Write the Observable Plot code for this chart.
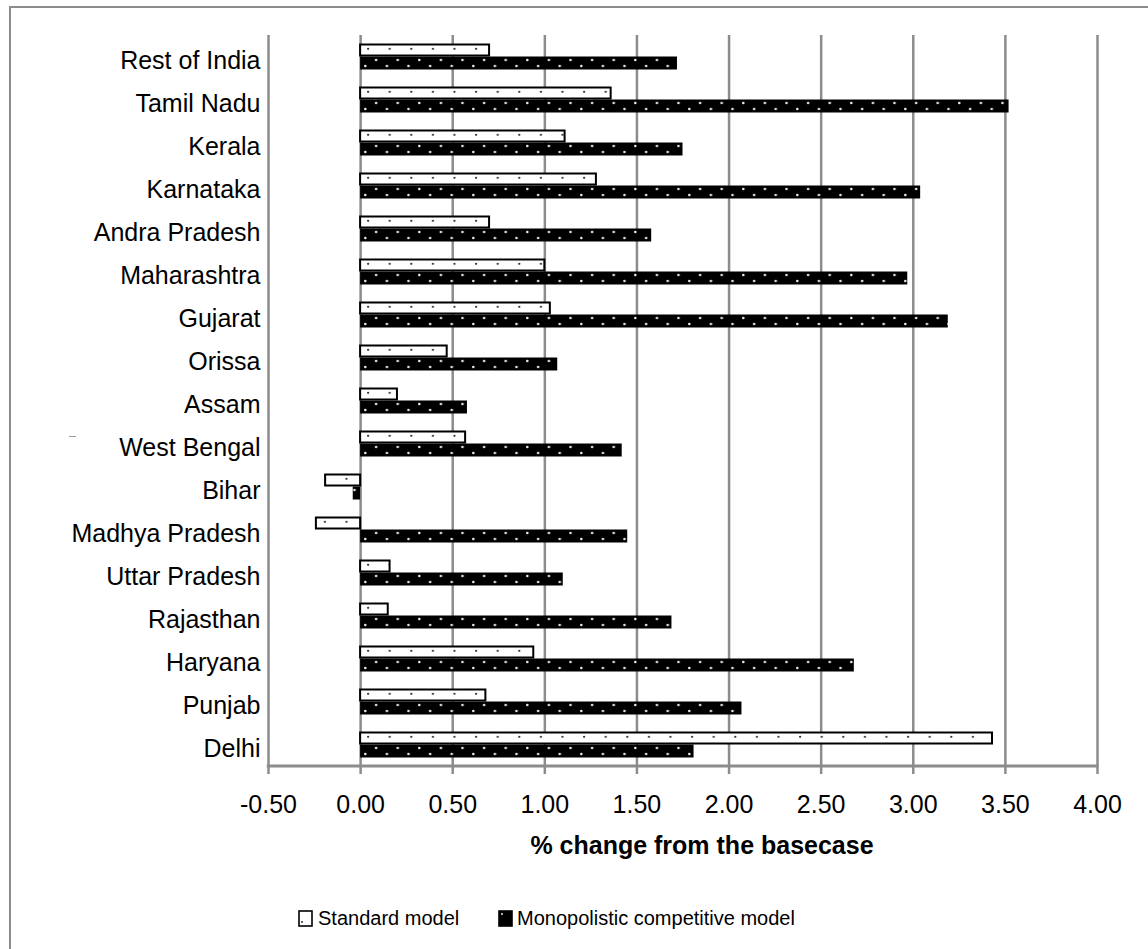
<!DOCTYPE html>
<html>
<head>
<meta charset="utf-8">
<script src="https://cdn.jsdelivr.net/npm/d3@7"></script>
<script src="https://cdn.jsdelivr.net/npm/@observablehq/plot@0.6"></script>
<style>
  html, body { margin: 0; padding: 0; background: #fff; overflow: hidden; }
  #wrap { position: relative; width: 1148px; height: 949px; font-family: "Liberation Sans", Arial, sans-serif; color: #000; }
  #frame { position: absolute; left: 9px; top: 6px; width: 1300px; height: 1100px; border-left: 2.5px solid #8c8c8c; border-top: 2.5px solid #8c8c8c; box-sizing: border-box; }
  #chart { position: absolute; left: 0; top: 0; }
  #xtitle { position: absolute; left: 452px; top: 830px; width: 500px; text-align: center; font-weight: bold; font-size: 25px; line-height: 30px; }
  #stray { position: absolute; left: 69px; top: 436px; width: 7px; height: 1px; background: #9a9a9a; }
  .leg { position: absolute; top: 906px; font-size: 20px; line-height: 24px; white-space: nowrap; }
  .sw { position: absolute; top: 910px; }
</style>
</head>
<body>
<div id="wrap">
  <div id="frame"></div>
  <div id="stray"></div>
  <div id="chart"></div>
  <div id="xtitle"></div>
  <div id="legend"></div>
</div>
<script>
// ---- data ----
const states = ["Rest of India", "Tamil Nadu", "Kerala", "Karnataka", "Andra Pradesh", "Maharashtra", "Gujarat", "Orissa", "Assam", "West Bengal", "Bihar", "Madhya Pradesh", "Uttar Pradesh", "Rajasthan", "Haryana", "Punjab", "Delhi"];
const standardModel = [0.70, 1.36, 1.11, 1.28, 0.70, 1.00, 1.03, 0.47, 0.20, 0.57, -0.19, -0.24, 0.16, 0.15, 0.94, 0.68, 3.43];
const monopolisticModel = [1.72, 3.52, 1.75, 3.04, 1.58, 2.97, 3.19, 1.07, 0.58, 1.42, -0.04, 1.45, 1.10, 1.69, 2.68, 2.07, 1.81];
const seriesNames = ["Standard model", "Monopolistic competitive model"];
const xTicks = [-0.5, 0, 0.5, 1, 1.5, 2, 2.5, 3, 3.5, 4];
const xTitle = "% change from the basecase";

const rows = states.map((s, i) => ({state: s, standard: standardModel[i], mono: monopolisticModel[i]}));
const GRID = "#8c8c8c";

const chart = Plot.plot({
  width: 1148,
  height: 830,
  marginLeft: 268,
  marginRight: 51,
  marginTop: 35,
  marginBottom: 64,
  style: {fontFamily: "'Liberation Sans', Arial, sans-serif", color: "#000", background: "transparent", overflow: "visible"},
  x: {domain: [xTicks[0], xTicks[xTicks.length - 1]], label: null},
  y: {domain: states, padding: 0, label: null},
  marks: [
    Plot.gridX(xTicks, {stroke: GRID, strokeOpacity: 1, strokeWidth: 2.5}),
    Plot.barX(rows, {x: "standard", y: "state", fill: "url(#pat-std)", stroke: "#000", strokeWidth: 2, insetTop: 9.5, insetBottom: 22.5}),
    Plot.barX(rows, {x: "mono", y: "state", fill: "url(#pat-mono)", insetTop: 21.5, insetBottom: 8.5}),
    Plot.axisX(xTicks, {tickSize: 8, tickPadding: 21, stroke: GRID, strokeWidth: 2.5, strokeOpacity: 1, fill: "#000", fontSize: 25, tickFormat: d => d.toFixed(2), label: null}),
    Plot.axisY({tickSize: 0, tickPadding: 8, fontSize: 25, fill: "#000", dy: 4, label: null})
  ]
});

// patterns aligned to the scales
const xs = chart.scale("x"), ys = chart.scale("y");
const x0 = xs.apply(0);
const yTop = ys.range[0];
const step = ys.step || ys.bandwidth;
const svg = d3.select(chart);
const defs = svg.insert("defs", ":first-child");
const pw = 21.6;
const ps = defs.append("pattern").attr("id", "pat-std").attr("patternUnits", "userSpaceOnUse")
  .attr("x", x0).attr("y", yTop).attr("width", pw).attr("height", step);
ps.append("rect").attr("width", pw).attr("height", step).attr("fill", "#fff");
ps.append("circle").attr("cx", 8).attr("cy", 13.8).attr("r", 1.15).attr("fill", "#333");
const pm = defs.append("pattern").attr("id", "pat-mono").attr("patternUnits", "userSpaceOnUse")
  .attr("x", x0).attr("y", yTop).attr("width", pw).attr("height", step);
pm.append("rect").attr("width", pw).attr("height", step).attr("fill", "#000");
pm.append("circle").attr("cx", 16).attr("cy", 25).attr("r", 1.3).attr("fill", "#e8e8e8");
pm.append("circle").attr("cx", 5.2).attr("cy", 31).attr("r", 1.3).attr("fill", "#e8e8e8");

// bottom axis line
const yb = ys.range[1];
svg.append("line")
  .attr("x1", xs.apply(xTicks[0]) - 1.25).attr("x2", xs.apply(xTicks[xTicks.length - 1]) + 1.25)
  .attr("y1", yb).attr("y2", yb)
  .attr("stroke", GRID).attr("stroke-width", 3);

document.getElementById("chart").appendChild(chart);
document.getElementById("xtitle").textContent = xTitle;

// legend
const legend = document.getElementById("legend");
const legendItems = [
  {name: seriesNames[0], swLeft: 298, textLeft: 318, fill: "#fff", dot: "#333"},
  {name: seriesNames[1], swLeft: 498, textLeft: 517, fill: "#000", dot: "#e8e8e8"}
];
for (const it of legendItems) {
  const sw = document.createElementNS("http://www.w3.org/2000/svg", "svg");
  sw.setAttribute("width", 16); sw.setAttribute("height", 18);
  sw.setAttribute("class", "sw");
  sw.style.left = it.swLeft + "px";
  sw.innerHTML = `<rect x="1" y="1" width="13" height="15" fill="${it.fill}" stroke="#000" stroke-width="1.6"/><circle cx="4" cy="${it.fill === "#000" ? 4 : 12}" r="1" fill="${it.dot}"/>`;
  legend.appendChild(sw);
  const t = document.createElement("div");
  t.className = "leg";
  t.style.left = it.textLeft + "px";
  t.textContent = it.name;
  legend.appendChild(t);
}
</script>
</body>
</html>
